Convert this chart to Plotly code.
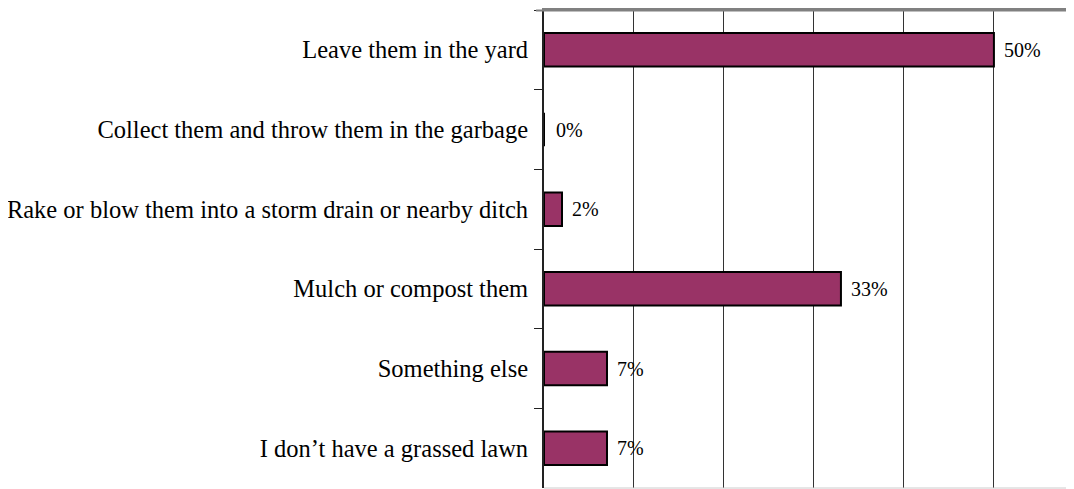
import plotly.graph_objects as go

categories = [
    "Leave them in the yard",
    "Collect them and throw them in the garbage",
    "Rake or blow them into a storm drain or nearby ditch",
    "Mulch or compost them",
    "Something else",
    "I don\u2019t have a grassed lawn",
]
values = [50, 0, 2, 33, 7, 7]
value_labels = ["50%", "0%", "2%", "33%", "7%", "7%"]
x_ticks = [0, 10, 20, 30, 40, 50]

FONT = "Liberation Serif, Times New Roman, serif"

fig = go.Figure()
fig.add_trace(go.Bar(
    y=categories,
    x=values,
    orientation="h",
    width=0.42,
    marker=dict(color="#993366", line=dict(color="#000000", width=2)),
    hoverinfo="skip",
))

for cat, v, lab in zip(categories, values, value_labels):
    fig.add_annotation(
        x=v, y=cat, text=lab, showarrow=False,
        xanchor="left", yanchor="middle", xshift=8 if v > 0 else 10,
        font=dict(family=FONT, size=20, color="#000000"),
    )

# plot-area border lines (top gray, bottom light gray)
fig.add_shape(type="line", xref="paper", yref="paper", x0=-0.015, x1=1, y0=0.999, y1=0.999,
              line=dict(color="#808080", width=2), layer="above")
fig.add_shape(type="line", xref="paper", yref="paper", x0=0, x1=1, y0=0, y1=0,
              line=dict(color="#cccccc", width=1), layer="above")

fig.update_layout(
    width=1066, height=481,
    margin=dict(l=536, r=0, t=2, b=1),
    paper_bgcolor="white", plot_bgcolor="white",
    showlegend=False,
    font=dict(family=FONT, size=24, color="#000000"),
    xaxis=dict(
        range=[0, 58.9],
        side="top",
        tickvals=x_ticks,
        showticklabels=False,
        ticks="",
        showgrid=True, gridcolor="#333333", gridwidth=1,
        zeroline=False,
        showline=True, linecolor="#808080", linewidth=2,
        automargin=False,
        fixedrange=True,
    ),
    yaxis=dict(
        type="category",
        autorange="reversed",
        tickson="boundaries",
        ticks="outside", ticklen=8, tickwidth=1, tickcolor="#222222",
        ticklabelstandoff=9,
        showline=True, linecolor="#222222", linewidth=2,
        showgrid=False,
        automargin=False,
        tickfont=dict(family=FONT, size=24.5, color="#000000"),
        fixedrange=True,
    ),
)

fig.write_html("out.html")
